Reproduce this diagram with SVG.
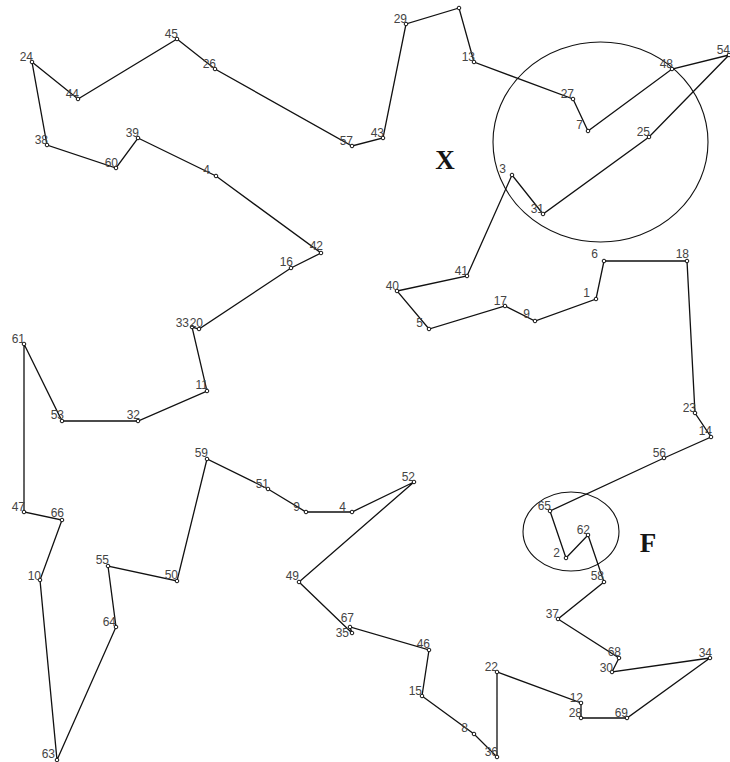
<svg xmlns="http://www.w3.org/2000/svg" width="730" height="762" viewBox="0 0 730 762">
<style>
.e{stroke:#111;stroke-width:1.3;fill:none;stroke-linecap:round}
.p{fill:#fff;stroke:#111;stroke-width:1}
.l{font-family:"Liberation Sans",Arial,sans-serif;font-size:12px;fill:#444;text-anchor:end}
.c{fill:none;stroke:#111;stroke-width:1.1}
.big{font-family:"Liberation Serif","Times New Roman",serif;font-size:27px;font-weight:bold;fill:#151515;text-anchor:middle}
</style>
<rect width="730" height="762" fill="#fff"/>
<g id="regions">
<ellipse id="regionX" class="c" cx="600.5" cy="142" rx="107.5" ry="100"/>
<ellipse id="regionF" class="c" cx="571" cy="531.5" rx="48" ry="39.5"/>
<text class="big" x="445" y="169">X</text>
<text class="big" x="648" y="552">F</text>
</g>
<g id="connectors">
<polygon class="e" points="32,62 78,99 177,39 215,69 352,146 383,138 406,24 459,8 474,62 573,99 588,131 672,69 729,55 649,137 543,214 512,175 467,276 397,291 429,329 505,306 535,321 596,299 604,261 687,261 695,413 711,437 664,458 550,511 566,558 588,535 604,582 558,619 619,658 612,672 710,658 627,718 581,718 581,703 497,672 497,757 474,734 422,696 429,650 350,627 352,633 299,582 414,482 352,512 306,512 268,489 207,459 177,581 108,566 116,627 57,760 40,580 62,520 24,512 24,344 62,421 138,421 207,391 192,327 199,329 291,268 321,253 216,176 138,138 116,168 47,145"/>
</g>
<g id="n24"><circle class="p" cx="32" cy="62" r="1.8"/><text class="l" x="33" y="61">24</text></g>
<g id="n44"><circle class="p" cx="78" cy="99" r="1.8"/><text class="l" x="79" y="98">44</text></g>
<g id="n45"><circle class="p" cx="177" cy="39" r="1.8"/><text class="l" x="178" y="38">45</text></g>
<g id="n26"><circle class="p" cx="215" cy="69" r="1.8"/><text class="l" x="216" y="68">26</text></g>
<g id="n57"><circle class="p" cx="352" cy="146" r="1.8"/><text class="l" x="353" y="145">57</text></g>
<g id="n43"><circle class="p" cx="383" cy="138" r="1.8"/><text class="l" x="384" y="137">43</text></g>
<g id="n29"><circle class="p" cx="406" cy="24" r="1.8"/><text class="l" x="407" y="23">29</text></g>
<g id="nTop"><circle class="p" cx="459" cy="8" r="1.8"/></g>
<g id="n13"><circle class="p" cx="474" cy="62" r="1.8"/><text class="l" x="475" y="61">13</text></g>
<g id="n27"><circle class="p" cx="573" cy="99" r="1.8"/><text class="l" x="574" y="98">27</text></g>
<g id="n7"><circle class="p" cx="588" cy="131" r="1.8"/><text class="l" x="583" y="129">7</text></g>
<g id="n48"><circle class="p" cx="672" cy="69" r="1.8"/><text class="l" x="673" y="68">48</text></g>
<g id="n54"><circle class="p" cx="729" cy="55" r="1.8"/><text class="l" x="730" y="54">54</text></g>
<g id="n25"><circle class="p" cx="649" cy="137" r="1.8"/><text class="l" x="650" y="136">25</text></g>
<g id="n31"><circle class="p" cx="543" cy="214" r="1.8"/><text class="l" x="544" y="213">31</text></g>
<g id="n3"><circle class="p" cx="512" cy="175" r="1.8"/><text class="l" x="506" y="173">3</text></g>
<g id="n41"><circle class="p" cx="467" cy="276" r="1.8"/><text class="l" x="468" y="275">41</text></g>
<g id="n40"><circle class="p" cx="397" cy="291" r="1.8"/><text class="l" x="399" y="290">40</text></g>
<g id="n5"><circle class="p" cx="429" cy="329" r="1.8"/><text class="l" x="423" y="327">5</text></g>
<g id="n17"><circle class="p" cx="505" cy="306" r="1.8"/><text class="l" x="507" y="305">17</text></g>
<g id="n9a"><circle class="p" cx="535" cy="321" r="1.8"/><text class="l" x="530" y="318">9</text></g>
<g id="n1"><circle class="p" cx="596" cy="299" r="1.8"/><text class="l" x="590" y="297">1</text></g>
<g id="n6"><circle class="p" cx="604" cy="261" r="1.8"/><text class="l" x="598" y="258">6</text></g>
<g id="n18"><circle class="p" cx="687" cy="261" r="1.8"/><text class="l" x="689" y="258">18</text></g>
<g id="n23"><circle class="p" cx="695" cy="413" r="1.8"/><text class="l" x="696" y="412">23</text></g>
<g id="n14"><circle class="p" cx="711" cy="437" r="1.8"/><text class="l" x="712" y="435">14</text></g>
<g id="n56"><circle class="p" cx="664" cy="458" r="1.8"/><text class="l" x="666" y="457">56</text></g>
<g id="n65"><circle class="p" cx="550" cy="511" r="1.8"/><text class="l" x="551" y="510">65</text></g>
<g id="n2"><circle class="p" cx="566" cy="558" r="1.8"/><text class="l" x="560" y="557">2</text></g>
<g id="n62"><circle class="p" cx="588" cy="535" r="1.8"/><text class="l" x="590" y="534">62</text></g>
<g id="n58"><circle class="p" cx="604" cy="582" r="1.8"/><text class="l" x="604" y="580">58</text></g>
<g id="n37"><circle class="p" cx="558" cy="619" r="1.8"/><text class="l" x="559" y="618">37</text></g>
<g id="n68"><circle class="p" cx="619" cy="658" r="1.8"/><text class="l" x="621" y="656">68</text></g>
<g id="n30"><circle class="p" cx="612" cy="672" r="1.8"/><text class="l" x="613" y="672">30</text></g>
<g id="n34"><circle class="p" cx="710" cy="658" r="1.8"/><text class="l" x="712" y="657">34</text></g>
<g id="n69"><circle class="p" cx="627" cy="718" r="1.8"/><text class="l" x="628" y="717">69</text></g>
<g id="n28"><circle class="p" cx="581" cy="718" r="1.8"/><text class="l" x="582" y="717">28</text></g>
<g id="n12"><circle class="p" cx="581" cy="703" r="1.8"/><text class="l" x="583" y="702">12</text></g>
<g id="n22"><circle class="p" cx="497" cy="672" r="1.8"/><text class="l" x="498" y="671">22</text></g>
<g id="n36"><circle class="p" cx="497" cy="757" r="1.8"/><text class="l" x="498" y="756">36</text></g>
<g id="n8"><circle class="p" cx="474" cy="734" r="1.8"/><text class="l" x="468" y="732">8</text></g>
<g id="n15"><circle class="p" cx="422" cy="696" r="1.8"/><text class="l" x="422" y="695">15</text></g>
<g id="n46"><circle class="p" cx="429" cy="650" r="1.8"/><text class="l" x="430" y="648">46</text></g>
<g id="n67"><circle class="p" cx="350" cy="627" r="1.8"/><text class="l" x="354" y="622">67</text></g>
<g id="n35"><circle class="p" cx="352" cy="633" r="1.8"/><text class="l" x="349" y="637">35</text></g>
<g id="n49"><circle class="p" cx="299" cy="582" r="1.8"/><text class="l" x="299" y="580">49</text></g>
<g id="n52"><circle class="p" cx="414" cy="482" r="1.8"/><text class="l" x="415" y="481">52</text></g>
<g id="n4a"><circle class="p" cx="352" cy="512" r="1.8"/><text class="l" x="346" y="511">4</text></g>
<g id="n9b"><circle class="p" cx="306" cy="512" r="1.8"/><text class="l" x="300" y="511">9</text></g>
<g id="n51"><circle class="p" cx="268" cy="489" r="1.8"/><text class="l" x="269" y="488">51</text></g>
<g id="n59"><circle class="p" cx="207" cy="459" r="1.8"/><text class="l" x="208" y="457">59</text></g>
<g id="n50"><circle class="p" cx="177" cy="581" r="1.8"/><text class="l" x="178" y="579">50</text></g>
<g id="n55"><circle class="p" cx="108" cy="566" r="1.8"/><text class="l" x="109" y="564">55</text></g>
<g id="n64"><circle class="p" cx="116" cy="627" r="1.8"/><text class="l" x="116" y="626">64</text></g>
<g id="n63"><circle class="p" cx="57" cy="760" r="1.8"/><text class="l" x="55" y="758">63</text></g>
<g id="n10"><circle class="p" cx="40" cy="580" r="1.8"/><text class="l" x="41" y="580">10</text></g>
<g id="n66"><circle class="p" cx="62" cy="520" r="1.8"/><text class="l" x="64" y="517">66</text></g>
<g id="n47"><circle class="p" cx="24" cy="512" r="1.8"/><text class="l" x="25" y="511">47</text></g>
<g id="n61"><circle class="p" cx="24" cy="344" r="1.8"/><text class="l" x="25" y="343">61</text></g>
<g id="n53"><circle class="p" cx="62" cy="421" r="1.8"/><text class="l" x="64" y="419">53</text></g>
<g id="n32"><circle class="p" cx="138" cy="421" r="1.8"/><text class="l" x="140" y="419">32</text></g>
<g id="n11"><circle class="p" cx="207" cy="391" r="1.8"/><text class="l" x="208" y="389">11</text></g>
<g id="n33"><circle class="p" cx="192" cy="327" r="1.8"/><text class="l" x="189" y="327">33</text></g>
<g id="n20"><circle class="p" cx="199" cy="329" r="1.8"/><text class="l" x="203" y="327">20</text></g>
<g id="n16"><circle class="p" cx="291" cy="268" r="1.8"/><text class="l" x="293" y="266">16</text></g>
<g id="n42"><circle class="p" cx="321" cy="253" r="1.8"/><text class="l" x="323" y="250">42</text></g>
<g id="n4b"><circle class="p" cx="216" cy="176" r="1.8"/><text class="l" x="210" y="174">4</text></g>
<g id="n39"><circle class="p" cx="138" cy="138" r="1.8"/><text class="l" x="139" y="137">39</text></g>
<g id="n60"><circle class="p" cx="116" cy="168" r="1.8"/><text class="l" x="118" y="167">60</text></g>
<g id="n38"><circle class="p" cx="47" cy="145" r="1.8"/><text class="l" x="48" y="144">38</text></g>
</svg>
